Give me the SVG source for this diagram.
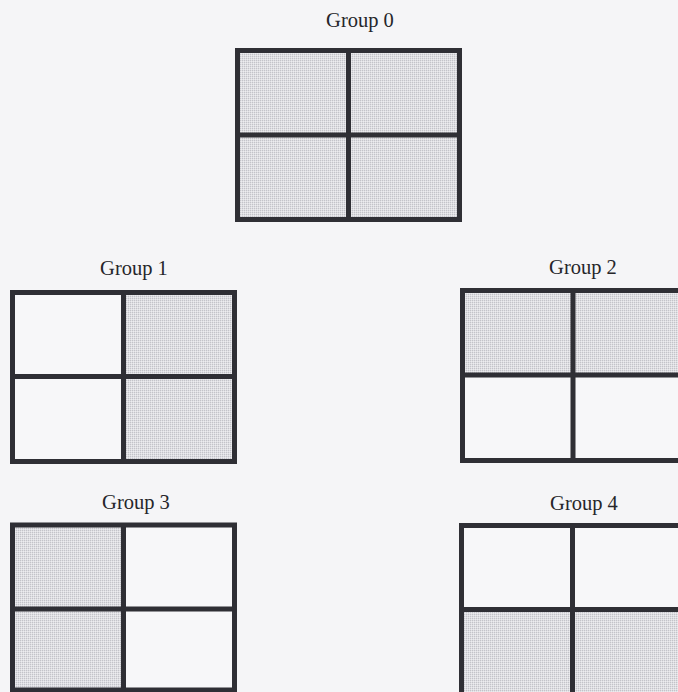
<svg xmlns="http://www.w3.org/2000/svg" width="678" height="692" viewBox="0 0 678 692">
<defs>
<pattern id="stipple" width="2" height="2" patternUnits="userSpaceOnUse">
<rect width="2" height="2" fill="#dedee2"/>
<rect x="0" y="0" width="1" height="1" fill="#c3c3c9"/>
<rect x="1" y="1" width="1" height="1" fill="#ececef"/>
</pattern>
</defs>
<style>
.bg{fill:#f5f5f7}
.lbl{font-family:"Liberation Serif","Times New Roman",serif;font-size:20.5px;fill:#26262a;text-anchor:middle}
.frame{fill:none;stroke:#2f2f35;stroke-width:5}
.g{fill:url(#stipple)}
.w{fill:#f7f7f9}
.div{stroke:#2f2f35;stroke-width:5}
</style>
<rect class="bg" x="0" y="0" width="678" height="692"/>

<g id="group0">
<text class="lbl" x="360" y="27">Group 0</text>
<rect class="g" x="237.5" y="50.5" width="111" height="84.5"/>
<rect class="g" x="348.5" y="50.5" width="111" height="84.5"/>
<rect class="g" x="237.5" y="135" width="111" height="84.5"/>
<rect class="g" x="348.5" y="135" width="111" height="84.5"/>
<line class="div" x1="348.5" y1="50.5" x2="348.5" y2="219.5"/>
<line class="div" x1="237.5" y1="135" x2="459.5" y2="135"/>
<rect class="frame" x="237.5" y="50.5" width="222" height="169"/>
</g>

<g id="group1">
<text class="lbl" x="134" y="275">Group 1</text>
<rect class="w" x="12.5" y="292.5" width="111" height="84"/>
<rect class="g" x="123.5" y="292.5" width="111" height="84"/>
<rect class="w" x="12.5" y="376.5" width="111" height="85"/>
<rect class="g" x="123.5" y="376.5" width="111" height="85"/>
<line class="div" x1="123.5" y1="292.5" x2="123.5" y2="461.5"/>
<line class="div" x1="12.5" y1="376.5" x2="234.5" y2="376.5"/>
<rect class="frame" x="12.5" y="292.5" width="222" height="169"/>
</g>

<g id="group2">
<text class="lbl" x="583" y="274">Group 2</text>
<rect class="g" x="462.5" y="290.5" width="111" height="84.5"/>
<rect class="g" x="573.5" y="290.5" width="111" height="84.5"/>
<rect class="w" x="462.5" y="375" width="111" height="85.5"/>
<rect class="w" x="573.5" y="375" width="111" height="85.5"/>
<line class="div" x1="573" y1="290.5" x2="573" y2="460.5"/>
<line class="div" x1="462.5" y1="375" x2="684.5" y2="375"/>
<rect class="frame" x="462.5" y="290.5" width="222" height="170"/>
</g>

<g id="group3">
<text class="lbl" x="136" y="509">Group 3</text>
<rect class="g" x="12.5" y="525" width="111" height="84"/>
<rect class="w" x="123.5" y="525" width="111" height="84"/>
<rect class="g" x="12.5" y="609" width="111" height="81"/>
<rect class="w" x="123.5" y="609" width="111" height="81"/>
<line class="div" x1="123.5" y1="525" x2="123.5" y2="690"/>
<line class="div" x1="12.5" y1="609" x2="234.5" y2="609"/>
<rect class="frame" x="12.5" y="525" width="222" height="165"/>
</g>

<g id="group4">
<text class="lbl" x="584" y="510">Group 4</text>
<rect class="w" x="461.5" y="525.5" width="111" height="84"/>
<rect class="w" x="572.5" y="525.5" width="111" height="84"/>
<rect class="g" x="461.5" y="609.5" width="111" height="86"/>
<rect class="g" x="572.5" y="609.5" width="111" height="86"/>
<line class="div" x1="572.5" y1="525.5" x2="572.5" y2="695.5"/>
<line class="div" x1="461.5" y1="609.5" x2="683.5" y2="609.5"/>
<rect class="frame" x="461.5" y="525.5" width="222" height="170"/>
</g>

<g id="connectors"></g>
</svg>
